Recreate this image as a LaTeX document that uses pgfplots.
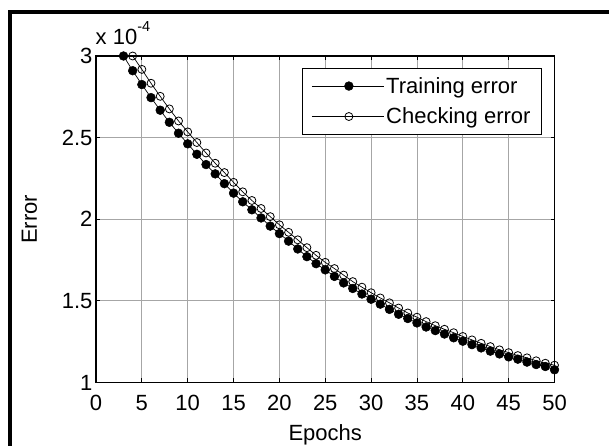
\documentclass[border=0pt]{standalone}
\usepackage{fontspec}
\setmainfont{Liberation Sans}
\usepackage{pgfplots}
\pgfplotsset{compat=1.18}
\usepackage{pgfplotstable}

% training error (x 1e-4)
\pgfplotstableread{
ep err
3 3.000
4 2.910
5 2.825
6 2.745
7 2.668
8 2.594
9 2.527
10 2.462
11 2.398
12 2.335
13 2.278
14 2.218
15 2.160
16 2.107
17 2.058
18 2.008
19 1.958
20 1.912
21 1.866
22 1.818
23 1.771
24 1.728
25 1.690
26 1.650
27 1.610
28 1.576
29 1.542
30 1.510
31 1.480
32 1.448
33 1.418
34 1.392
35 1.365
36 1.340
37 1.318
38 1.297
39 1.274
40 1.253
41 1.232
42 1.212
43 1.192
44 1.175
45 1.157
46 1.143
47 1.125
48 1.110
49 1.098
50 1.078
}\training

% checking error (x 1e-4)
\pgfplotstableread{
ep err
4 3.000
5 2.918
6 2.833
7 2.753
8 2.676
9 2.602
10 2.535
11 2.470
12 2.406
13 2.343
14 2.286
15 2.226
16 2.168
17 2.115
18 2.066
19 2.016
20 1.966
21 1.920
22 1.874
23 1.826
24 1.779
25 1.736
26 1.698
27 1.658
28 1.618
29 1.584
30 1.550
31 1.518
32 1.488
33 1.456
34 1.426
35 1.400
36 1.373
37 1.348
38 1.326
39 1.305
40 1.282
41 1.261
42 1.240
43 1.220
44 1.200
45 1.183
46 1.165
47 1.151
48 1.133
49 1.118
50 1.106
}\checking

\begin{document}
\begin{tikzpicture}
\useasboundingbox (0,0) rectangle (609pt,446pt);
\fill[white] (0,0) rectangle (609pt,446pt);
% outer figure frame (clipped at right and bottom)
\draw[line width=4pt] (9.5pt,-20pt) -- (9.5pt,434pt) -- (630pt,434pt);

\begin{axis}[
    at={(96pt,63.5pt)}, anchor=south west,
    scale only axis,
    width=458.5pt, height=326.5pt,
    xmin=0, xmax=50, ymin=1, ymax=3,
    xtick={0,5,...,50},
    ytick={1,1.5,2,2.5,3},
    yticklabels={1,1.5,2,2.5,3},
    grid=major,
    major grid style={draw=black!35, line width=0.8pt},
    axis line style={line width=1.2pt},
    tick align=inside, tick pos=both,
    major tick length=4pt,
    every tick/.style={black, line width=0.8pt},
    /pgf/number format/assume math mode=true,
    tick label style={font=\fontsize{22}{25}\selectfont},
    xticklabel style={yshift=-9pt},
    xlabel={Epochs},
    ylabel={Error},
    every axis x label/.style={at={(axis description cs:0.5,-0.179)}, anchor=base,
        font=\fontsize{22}{25}\selectfont},
    every axis y label/.style={at={(axis description cs:-0.1292,0.5)}, rotate=90, anchor=base,
        font=\fontsize{22}{25}\selectfont},
    legend cell align=left,
    legend style={at={(rel axis cs:0.973,0.964)}, anchor=north east,
        draw=black, line width=1.2pt, fill=white,
        font=\fontsize{22}{26}\selectfont,
        inner xsep=9pt, inner ysep=7pt, row sep=9pt},
    legend image code/.code={
        \draw[#1, mark=none, line width=0.7pt] (0pt,0pt) -- (72pt,0pt);
        \draw[#1, line width=0.7pt] plot coordinates {(37pt,0pt)};
    },
  ]
\addplot[black, line width=0.7pt, mark=*, mark size=4.4pt,
    mark options={fill=black, line width=0.5pt}] table[x=ep, y=err] {\training};
\addlegendentry{Training error}
\addplot[black, line width=0.7pt, mark=o, mark size=4pt,
    mark options={line width=0.8pt}] table[x=ep, y=err] {\checking};
\addlegendentry{Checking error}
\end{axis}

\node[anchor=base west, font=\fontsize{22}{25}\selectfont, inner sep=0pt]
    at (95.5pt,401pt) {x 10\raisebox{13pt}{\fontsize{14.5}{15}\selectfont -4}};
\end{tikzpicture}
\end{document}
